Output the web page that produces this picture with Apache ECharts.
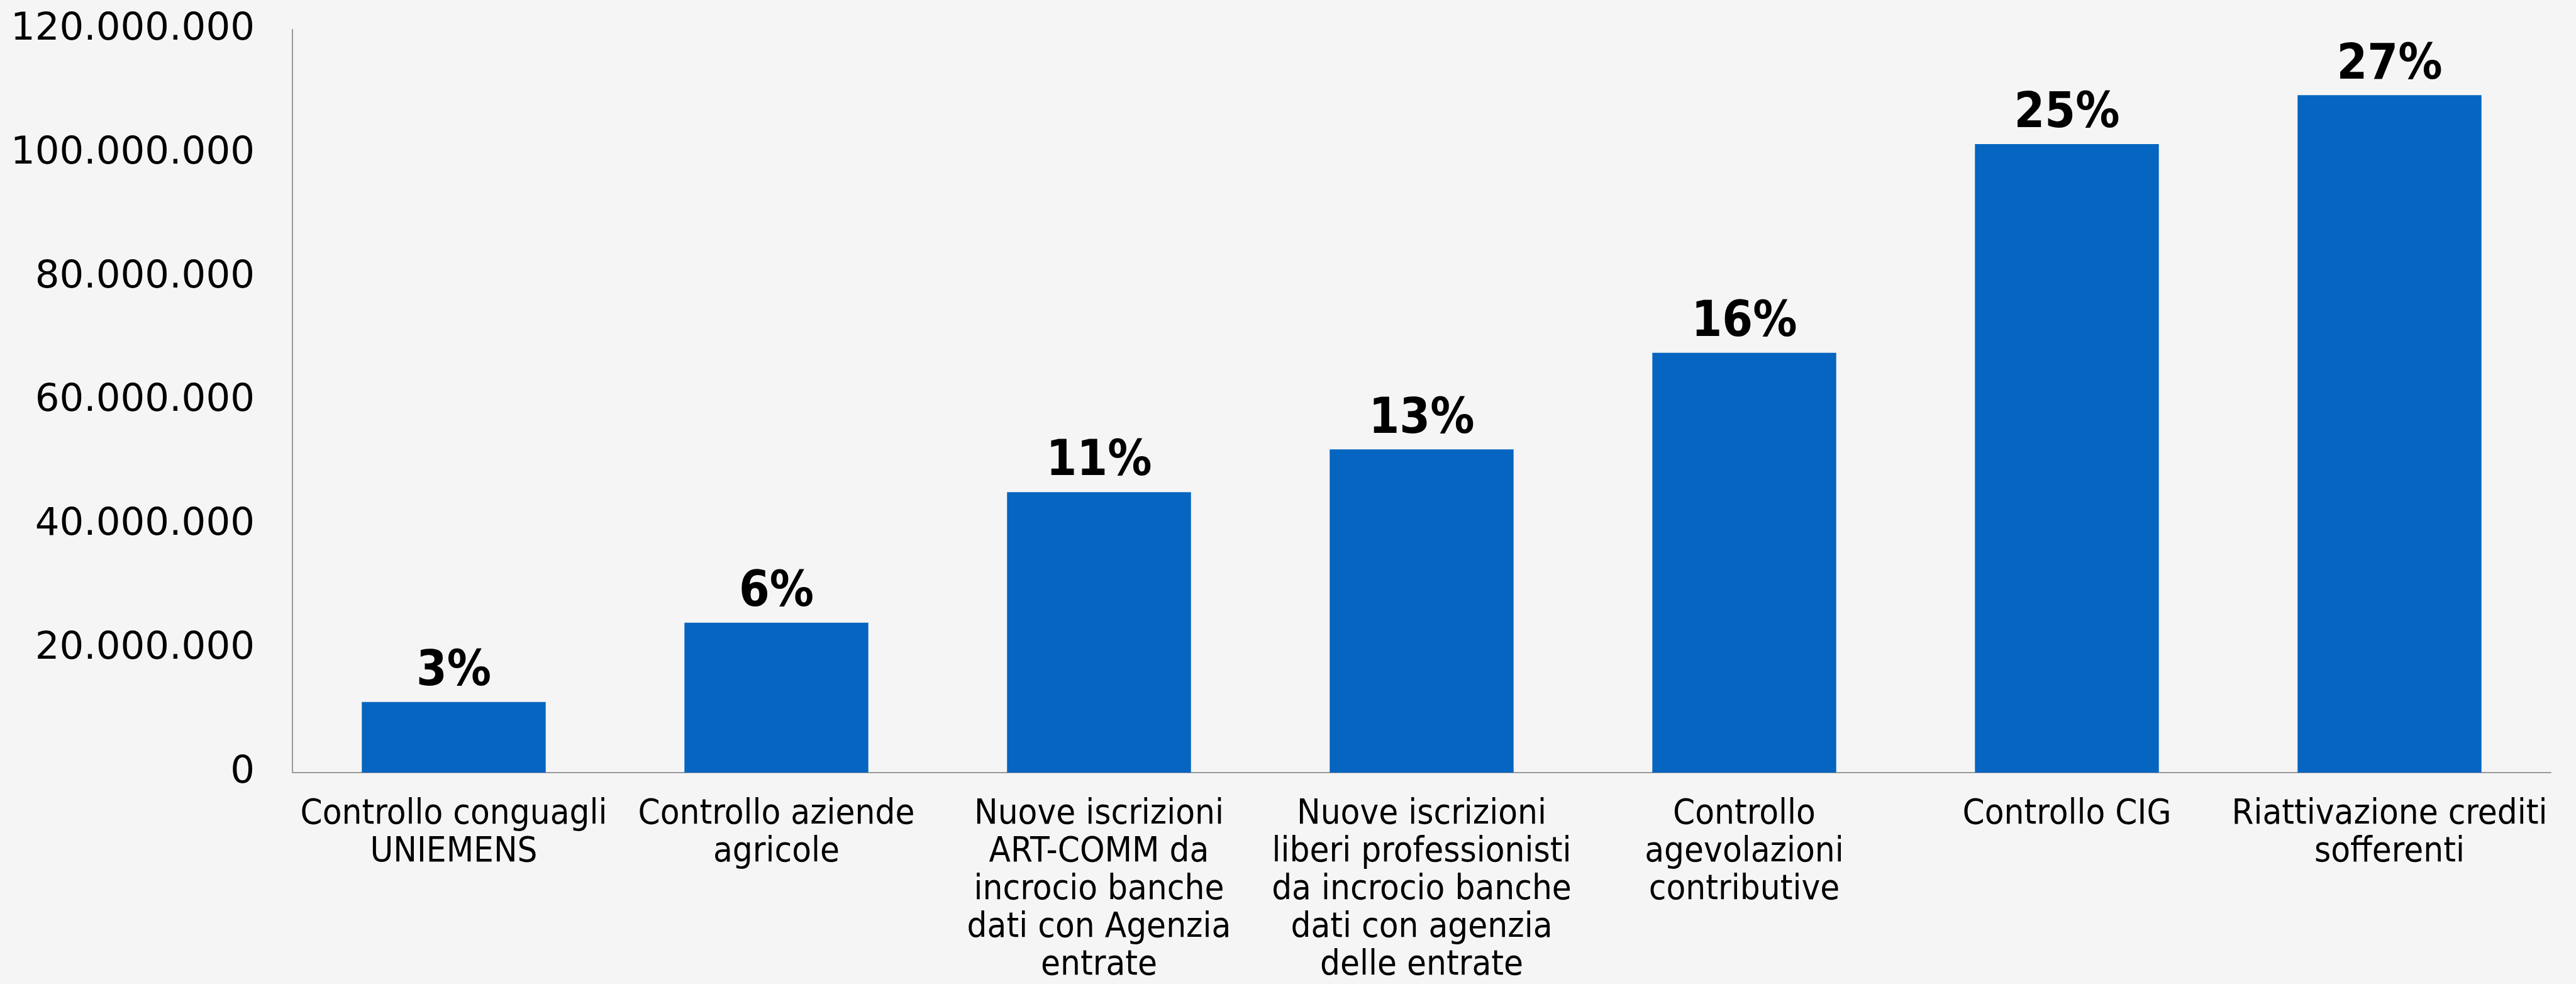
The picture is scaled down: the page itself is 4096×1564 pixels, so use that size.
<!DOCTYPE html>
<html>
<head>
<meta charset="utf-8">
<script src="https://cdn.jsdelivr.net/npm/echarts@6/dist/echarts.min.js"></script>
<style>
  html, body { margin: 0; padding: 0; background: #f5f5f5; }
  #chart { width: 4096px; height: 1564px; }
</style>
</head>
<body>
<div id="chart"></div>
<script>
const categories = [
    'Controllo conguagli\nUNIEMENS',
    'Controllo aziende\nagricole',
    'Nuove iscrizioni\nART-COMM da\nincrocio banche\ndati con Agenzia\nentrate',
    'Nuove iscrizioni\nliberi professionisti\nda incrocio banche\ndati con agenzia\ndelle entrate',
    'Controllo\nagevolazioni\ncontributive',
    'Controllo CIG',
    'Riattivazione crediti\nsofferenti'
]
const values = [11400000, 24200000, 45300000, 52200000, 67800000, 101500000, 109400000]
const percentLabels = ['3%', '6%', '11%', '13%', '16%', '25%', '27%']
const yTicks = [0, 20000000, 40000000, 60000000, 80000000, 100000000, 120000000]

const chartDom = document.getElementById('chart')
const chartInstance = echarts.init(chartDom)

// 120000000 -> 120.000.000
const formatIt = function (v) {
    return String(v).replace(/\B(?=(\d{3})+(?!\d))/g, '.')
}

const option = {
    backgroundColor: '#f5f5f5',
    animation: false,
    grid: {
        left: 465,
        right: 40,
        top: 47,
        bottom: 334,
        containLabel: false
    },
    xAxis: {
        type: 'category',
        data: categories,
        axisLine: { show: true, lineStyle: { color: '#9a9a9a', width: 2 } },
        axisTick: { show: false },
        axisLabel: {
            interval: 0,
            margin: 36,
            fontFamily: 'DejaVu Sans Condensed',
            fontSize: 56,
            lineHeight: 60,
            color: '#000',
            align: 'center'
        }
    },
    yAxis: {
        type: 'value',
        min: yTicks[0],
        max: yTicks[yTicks.length - 1],
        interval: yTicks[1] - yTicks[0],
        splitLine: { show: false },
        axisLine: { show: true, lineStyle: { color: '#9a9a9a', width: 2 } },
        axisTick: { show: false },
        axisLabel: {
            margin: 60,
            fontFamily: 'DejaVu Sans',
            fontSize: 61,
            color: '#000',
            formatter: formatIt
        }
    },
    series: [
        {
            type: 'bar',
            data: values,
            barCategoryGap: '43%',
            itemStyle: { color: '#0565c0' },
            label: {
                show: true,
                position: 'top',
                distance: 8,
                fontFamily: 'DejaVu Sans Condensed',
                fontWeight: 'bold',
                fontSize: 78,
                color: '#000',
                formatter: function (p) {
                    return percentLabels[p.dataIndex]
                }
            }
        }
    ]
}

option && chartInstance.setOption(option)
</script>
</body>
</html>
